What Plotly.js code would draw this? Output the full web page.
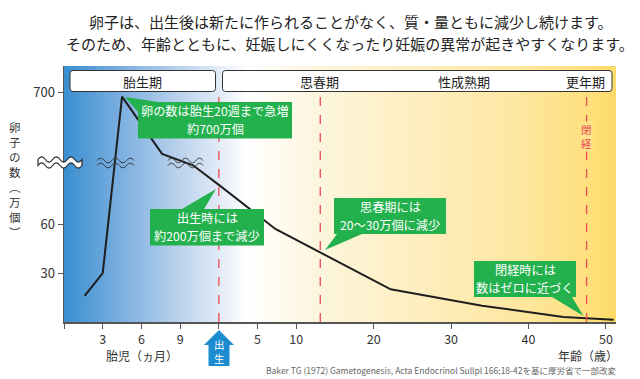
<!DOCTYPE html>
<html><head><meta charset="utf-8">
<script src="https://cdn.plot.ly/plotly-3.0.1.min.js"></script>
<style>html,body{margin:0;padding:0;background:#fff;}#chart{width:640px;height:379px;}</style>
</head><body><div id="chart"></div>
<script>
// ---- data ----
const fetalMonths = [1.6, 3.0, 4.5, 7.6, 10.0];      // 胎児（ヵ月）
const fetalCount  = [16, 30, 138, 103, 96];          // plotted on the chart's broken scale
const ageYears    = [0, 7.3, 22.2, 34.0, 44.5, 51.0]; // 年齢（歳）
const ageCount    = [84, 57, 20, 10, 3.1, 1.4];
const fetalTickMonths = [3, 6, 9];
const ageTicks = [5, 10, 20, 30, 40, 50];
const yTickVals = [30, 60, 140.7];
const yTickText = ['30', '60', '700'];
const eventAges = [0, 13.1, 47.5];                   // 出生, 思春期, 閉経
const stageLabels = ['思春期', '性成熟期', '更年期'];
const calloutTexts = [
  ['卵の数は胎生20週まで急増', '約700万個'],
  ['出生時には', '約200万個まで減少'],
  ['思春期には', '20〜30万個に減少'],
  ['閉経時には', '数はゼロに近づく']
];

// fetal months are drawn on the same axis as age: birth at month 12, 3 months = 5 units
const BIRTH_MONTH = 12, MONTH_SCALE = 5/3;
const fx = m => (m - BIRTH_MONTH) * MONTH_SCALE;

const xs = fetalMonths.map(fx).concat(ageYears);
const ys = fetalCount.concat(ageCount);

// ---- geometry helpers (pixel -> paper) ----
const L=64, R=616, T=66, B=322;
const XMIN=-20, XMAX=51.3, YMAX=156.8;
const PX = px => (px-L)/(R-L);
const PY = py => (B-py)/(B-T);
const pt = (x,y) => PX(x).toFixed(5)+','+PY(y).toFixed(5);

function rrect(x0,y0,x1,y1,r){
  return `M${pt(x0+r,y0)} L${pt(x1-r,y0)} Q${pt(x1,y0)} ${pt(x1,y0+r)} L${pt(x1,y1-r)} Q${pt(x1,y1)} ${pt(x1-r,y1)} L${pt(x0+r,y1)} Q${pt(x0,y1)} ${pt(x0,y1-r)} L${pt(x0,y0+r)} Q${pt(x0,y0)} ${pt(x0+r,y0)} Z`;
}
function waveFwd(x0,x1,y,amp,n){
  let s=''; const h=(x1-x0)/n;
  for(let i=0;i<n;i++){const xa=x0+h*i, sg=(i%2?1:-1)*amp*1.33;
    s+=` C${pt(xa+h*0.33,y+sg)} ${pt(xa+h*0.67,y+sg)} ${pt(xa+h,y)}`;}
  return s;
}
function waveRev(x0,x1,y,amp,n){
  let s=''; const h=(x1-x0)/n;
  for(let j=n-1;j>=0;j--){const xa=x0+h*(j+1), sg=(j%2?1:-1)*amp*1.33;
    s+=` C${pt(xa-h*0.33,y+sg)} ${pt(xa-h*0.67,y+sg)} ${pt(xa-h,y)}`;}
  return s;
}

const FONT = '"Noto Sans CJK JP", "Noto Sans", sans-serif';
const shapes = [];
const ann = [];
function label(px, py, text, font, extra){
  ann.push(Object.assign({xref:'paper', yref:'paper', x:PX(px), y:PY(py), text:text, showarrow:false,
    xanchor:'center', yanchor:'middle', borderpad:0, font:font}, extra||{}));
}

// stage boxes
shapes.push({type:'path', xref:'paper', yref:'paper', path: rrect(70,70.5,215.5,91.5,3), fillcolor:'#fff', line:{color:'#333',width:1}});
shapes.push({type:'path', xref:'paper', yref:'paper', path: rrect(222.5,70.5,612,91.5,3), fillcolor:'#fff', line:{color:'#333',width:1}});
label(142, 81, '胎生期', {family:FONT,size:13,color:'#222'});
const stageX = [319.5, 463.5, 585];
stageLabels.forEach((t,i)=>label(stageX[i], 81, t, {family:FONT,size:13,color:'#222'}));

// event dashed lines
eventAges.forEach(a=>shapes.push({type:'line', xref:'x', yref:'paper', x0:a, x1:a, y0:PY(322), y1:PY(94), line:{color:'#ec4b55', width:1.3, dash:'dash'}, layer:'above'}));
// 閉経 label
label(586, 136, '閉<br>経', {family:FONT,size:10.5,color:'#e8434e'}, {bgcolor:'rgba(254,228,140,0.95)'});

// callouts
const GREEN = '#23b14d';
const callouts = [
  {r:[138,102,292,138.5], tri:[[125,97],[138,112],[158,102]], cx:215, cy:120},
  {r:[150,209,264,245.5], tri:[[216,189],[182,209],[204,209]], cx:207, cy:227},
  {r:[334,198,446,234], tri:[[325,250],[337,234],[362,234]], cx:390, cy:216},
  {r:[474,261,576,297], tri:[[583.5,316],[552,297],[572,297]], cx:525, cy:279}
];
const CALL_GAP = 8.6;
callouts.forEach((c,i)=>{
  shapes.push({type:'path', xref:'paper', yref:'paper', path:`M${pt(...c.tri[0])} L${pt(...c.tri[1])} L${pt(...c.tri[2])} Z`, fillcolor:GREEN, line:{width:0}});
  shapes.push({type:'rect', xref:'paper', yref:'paper', x0:PX(c.r[0]), x1:PX(c.r[2]), y0:PY(c.r[3]), y1:PY(c.r[1]), fillcolor:GREEN, line:{width:0}});
  label(c.cx, c.cy - CALL_GAP, calloutTexts[i][0], {family:FONT,size:12.2,color:'#fff'});
  label(c.cx, c.cy + CALL_GAP, calloutTexts[i][1], {family:FONT,size:12.2,color:'#fff'});
});

// axis break marks
shapes.push({type:'path', xref:'paper', yref:'paper',
  path:`M${pt(38,159.5)}${waveFwd(38,82,159.5,2.6,6)} L${pt(82,165.5)}${waveRev(38,82,165.5,2.6,6)} Z`,
  fillcolor:'#fff', line:{color:'#222',width:1.1}});
[[97,134],[168,203]].forEach(([a,b])=>{
  shapes.push({type:'path', xref:'paper', yref:'paper', path:`M${pt(a,160.5)}${waveFwd(a,b,160.5,2.3,5)}`, line:{color:'#333',width:1}});
  shapes.push({type:'path', xref:'paper', yref:'paper', path:`M${pt(a,165.5)}${waveFwd(a,b,165.5,2.3,5)}`, line:{color:'#333',width:1}});
});

// birth arrow
shapes.push({type:'path', xref:'paper', yref:'paper',
  path:`M${pt(219,330)} L${pt(234,345)} L${pt(229.5,345)} L${pt(229.5,366)} L${pt(208.5,366)} L${pt(208.5,345)} L${pt(204,345)} Z`,
  fillcolor:'#1d8bd0', line:{width:0}});
label(219, 351.5, '出<br>生', {family:FONT,size:10.5,color:'#fff'});

// y title (stacked upright characters)
label(15, 179, '卵<br>子<br>の<br>数<br>︵<br>万<br>個<br>︶', {family:FONT,size:11.5,color:'#333'});

// axis captions
label(142, 355, '胎児（ヵ月）', {family:FONT,size:12,color:'#333'});
label(619, 355, '年齢（歳）', {family:FONT,size:12,color:'#333'}, {xanchor:'right'});
label(617, 369.5, 'Baker TG (1972) Gametogenesis, Acta Endocrinol Sullpl 166;18-42を基に厚労省で一部改変', {family:FONT,size:8.5,color:'#666'}, {xanchor:'right'});

// heading
label(351, 21, '卵子は、出生後は新たに作られることがなく、質・量ともに減少し続けます。', {family:FONT,size:15,color:'#222'});
label(350, 43, 'そのため、年齢とともに、妊娠しにくくなったり妊娠の異常が起きやすくなります。', {family:FONT,size:15,color:'#222'});

// background gradient (decorative)
const gx = [], gz = [];
for(let i=0;i<=120;i++){ gx.push(XMIN + (XMAX-XMIN)*i/120); gz.push(i/120); }
const bg = {type:'heatmap', x:gx, y:[0,YMAX], z:[gz,gz], zmin:0, zmax:1, zsmooth:'best', showscale:false, hoverinfo:'skip',
  colorscale:[[0,'#3a8fd0'],[0.1,'#7aaee0'],[0.2,'#b6cfeb'],[0.28,'#e2ebf7'],[0.33,'#ffffff'],[0.45,'#fdf6df'],[0.6,'#fef0c6'],[0.8,'#fee8a6'],[0.93,'#fee183'],[1,'#fddb69']]};

const curve = {type:'scatter', mode:'lines', x:xs, y:ys, line:{color:'#1e1e1e', width:2}, hoverinfo:'skip', cliponaxis:false};

const tickVals = [XMIN].concat(fetalTickMonths.map(fx), [0], ageTicks);
const tickText = [''].concat(fetalTickMonths.map(String), [''], ageTicks.map(String));

const layout = {
  width:640, height:379, margin:{l:L, r:640-R, t:T, b:379-B},
  paper_bgcolor:'#fff', plot_bgcolor:'#fff', showlegend:false,
  font:{family:FONT, color:'#333'},
  xaxis:{range:[XMIN,XMAX], showgrid:false, zeroline:false, showline:true, linecolor:'#555', linewidth:1.5,
    ticks:'outside', ticklen:5, tickcolor:'#555', tickwidth:1, tickvals:tickVals, ticktext:tickText,
    tickfont:{family:FONT,size:12.5,color:'#333'}, fixedrange:true},
  yaxis:{range:[0,YMAX], showgrid:false, zeroline:false, showline:true, linecolor:'#555', linewidth:1.5,
    ticks:'outside', ticklen:5, tickcolor:'#555', tickwidth:1, tickvals:yTickVals, ticktext:yTickText,
    tickfont:{family:FONT,size:13,color:'#333'}, fixedrange:true},
  shapes:shapes, annotations:ann
};
Plotly.newPlot('chart',[bg,curve],layout,{staticPlot:true,displayModeBar:false});
</script></body></html>
